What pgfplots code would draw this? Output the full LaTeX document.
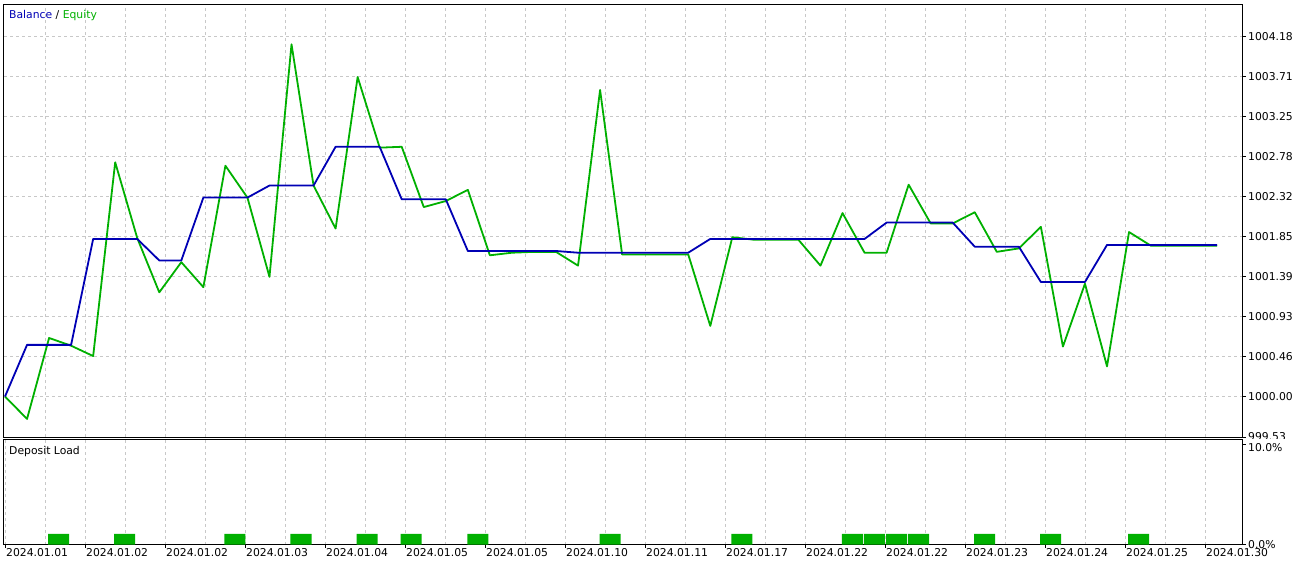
\documentclass[border=0pt]{standalone}
\usepackage{pgfplots}
\pgfplotsset{compat=1.18}
\usepackage{fontspec}
\setmainfont{DejaVu Sans}
\definecolor{balblue}{RGB}{0,0,180}
\definecolor{eqgreen}{RGB}{0,176,0}
\definecolor{gridgray}{RGB}{200,200,200}
\newcommand{\tl}{\fontsize{10.8pt}{12pt}\selectfont}

\begin{document}
\begin{tikzpicture}
\path[use as bounding box] (0,0) rectangle (1297pt,-565pt);

\begin{axis}[
  at={(4pt,-4pt)}, anchor=north west,
  width=1239pt, height=433pt, scale only axis,
  xmin=-0.0454, xmax=56.17,
  ymin=999.53, ymax=1004.558,
  axis line style={black, line width=1pt},
  xtick={1.81488,3.62976,...,54.6},
  xticklabels={}, xmajorgrids,
  x tick style={draw=none},
  ytick={999.53,1000,1000.4645,1000.929,1001.3935,1001.858,1002.3225,1002.787,1003.2515,1003.716,1004.1805},
  yticklabels={999.53,1000.00,1000.46,1000.93,1001.39,1001.85,1002.32,1002.78,1003.25,1003.71,1004.18},
  ymajorgrids,
  grid style={gridgray, dash pattern=on 3pt off 3pt, line width=1pt},
  ytick pos=right, yticklabel pos=right,
  tick align=outside, major tick length=3pt,
  y tick style={black, line width=1pt},
  yticklabel style={anchor=west, inner sep=0pt, xshift=2pt, font=\tl},
]
\addplot[eqgreen, line width=1.8pt, line join=round] coordinates {
(0,1000.00) (1,999.74) (2,1000.68) (3,1000.59) (4,1000.47) (5,1002.72) (6,1001.84) (7,1001.21)
(8,1001.56) (9,1001.27) (10,1002.68) (11,1002.31) (12,1001.39) (13,1004.09) (14,1002.45) (15,1001.95)
(16,1003.71) (17,1002.89) (18,1002.90) (19,1002.20) (20,1002.27) (21,1002.40) (22,1001.64) (23,1001.67)
(24,1001.68) (25,1001.68) (26,1001.52) (27,1003.56) (28,1001.65) (29,1001.65) (30,1001.65) (31,1001.65)
(32,1000.82) (33,1001.85) (34,1001.82) (35,1001.82) (36,1001.82) (37,1001.52) (38,1002.13) (39,1001.67)
(40,1001.67) (41,1002.46) (42,1002.01) (43,1002.01) (44,1002.14) (45,1001.68) (46,1001.72) (47,1001.97)
(48,1000.58) (49,1001.31) (50,1000.35) (51,1001.91) (52,1001.75) (53,1001.75) (54,1001.75) (55,1001.75)
};
\addplot[balblue, line width=1.8pt, line join=round] coordinates {
(0,1000.00) (1,1000.60) (2,1000.60) (3,1000.60) (4,1001.83) (5,1001.83) (6,1001.83) (7,1001.58)
(8,1001.58) (9,1002.31) (10,1002.31) (11,1002.31) (12,1002.45) (13,1002.45) (14,1002.45) (15,1002.90)
(16,1002.90) (17,1002.90) (18,1002.29) (19,1002.29) (20,1002.29) (21,1001.69) (22,1001.69) (23,1001.69)
(24,1001.69) (25,1001.69) (26,1001.67) (27,1001.67) (28,1001.67) (29,1001.67) (30,1001.67) (31,1001.67)
(32,1001.83) (33,1001.83) (34,1001.83) (35,1001.83) (36,1001.83) (37,1001.83) (38,1001.83) (39,1001.83)
(40,1002.02) (41,1002.02) (42,1002.02) (43,1002.02) (44,1001.74) (45,1001.74) (46,1001.74) (47,1001.33)
(48,1001.33) (49,1001.33) (50,1001.76) (51,1001.76) (52,1001.76) (53,1001.76) (54,1001.76) (55,1001.76)
};
\end{axis}

\fill[white] (1244pt,-439pt) rectangle (1297pt,-446pt);

\begin{axis}[
  at={(4pt,-439.5pt)}, anchor=north west,
  width=1239pt, height=105pt, scale only axis,
  xmin=-0.0454, xmax=56.17,
  ymin=0, ymax=10.45,
  axis line style={black, line width=1pt},
  xtick={0,3.62976,...,54.6},
  xticklabels={2024.01.01,2024.01.02,2024.01.02,2024.01.03,2024.01.04,2024.01.05,2024.01.05,2024.01.10,2024.01.11,2024.01.17,2024.01.22,2024.01.22,2024.01.23,2024.01.24,2024.01.25,2024.01.30},
  minor xtick={1.81488,5.44464,...,54.6},
  xmajorgrids, xminorgrids,
  grid style={gridgray, dash pattern=on 3pt off 3pt, line width=1pt},
  minor tick length=0pt,
  xtick pos=bottom, xticklabel pos=bottom,
  ytick={0}, yticklabels={0.0\%},
  extra y ticks={10}, extra y tick labels={10.0\%},
  extra y tick style={yticklabel style={yshift=-3.5pt}},
  ytick pos=right, yticklabel pos=right,
  tick align=outside, major tick length=3pt,
  tick style={black, line width=1pt},
  xticklabel style={anchor=north west, inner sep=0pt, xshift=1pt, yshift=-1pt, font=\tl},
  yticklabel style={anchor=west, inner sep=0pt, xshift=2pt, font=\tl},
]
\addplot[ybar, bar width=21pt, bar shift=0pt, fill=eqgreen, draw=none] coordinates {
(2.43,1.06) (5.43,1.06) (10.43,1.06) (13.43,1.06) (16.43,1.06) (18.43,1.06) (21.45,1.06) (27.45,1.06)
(33.43,1.06) (38.45,1.06) (39.45,1.06) (40.45,1.06) (41.45,1.06) (44.45,1.06) (47.44,1.06) (51.44,1.06)
};
\end{axis}

\node[anchor=base west, inner sep=0pt, font=\tl] at (9pt,-18.5pt) {\textcolor{balblue}{Balance} / \textcolor{eqgreen}{Equity}};
\node[anchor=base west, inner sep=0pt, font=\tl] at (9pt,-454pt) {Deposit Load};
\end{tikzpicture}
\end{document}
